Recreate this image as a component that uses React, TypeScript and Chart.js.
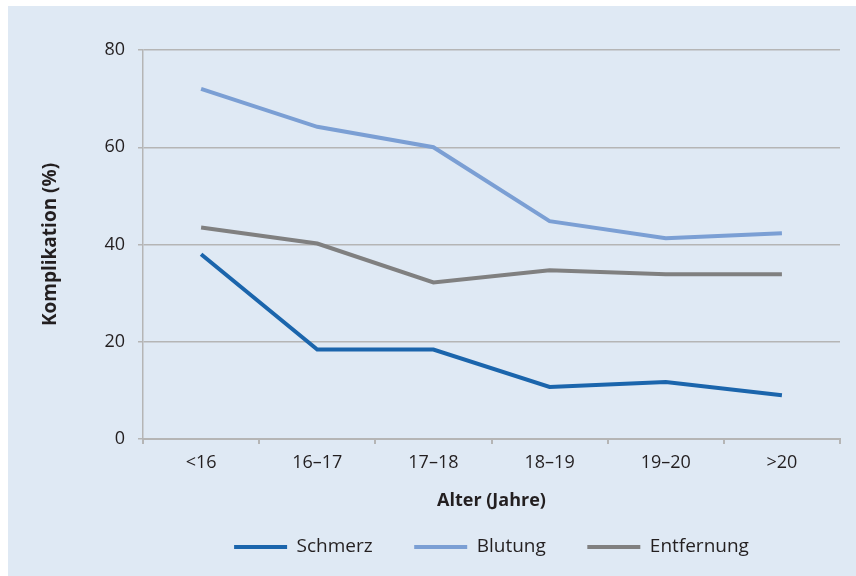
import { useEffect, useRef } from "react";
import { Chart, registerables } from "chart.js";

Chart.register(...registerables);

// Altersgruppen (x-Achse)
const ageGroups = ["<16", "16–17", "17–18", "18–19", "19–20", ">20"];

// Komplikationsraten in Prozent je Altersgruppe
const schmerz = [38, 18.4, 18.4, 10.7, 11.7, 9];
const blutung = [72, 64.2, 60, 44.8, 41.3, 42.3];
const entfernung = [43.5, 40.2, 32.2, 34.7, 33.9, 33.9];

// Beschriftete Werte der y-Achse
const yTicks = [0, 20, 40, 60, 80];

const seriesNames = ["Schmerz", "Blutung", "Entfernung"];
const seriesColors = ["#1b65ac", "#7b9fd4", "#808080"];

const GRID = "#b5b5b5";
const TEXT = "#231f20";
const FONT = "'Open Sans', 'Noto Sans', sans-serif";

export default function App() {
  const canvasRef = useRef<HTMLCanvasElement | null>(null);

  useEffect(() => {
    const canvas = canvasRef.current;
    if (!canvas) return;

    Chart.defaults.font.family = FONT;
    Chart.defaults.color = TEXT;

    const values = [schmerz, blutung, entfernung];

    const chart = new Chart(canvas, {
      type: "line",
      data: {
        labels: ageGroups,
        datasets: values.map((data, i) => ({
          label: seriesNames[i],
          data,
          borderColor: seriesColors[i],
          backgroundColor: seriesColors[i],
          borderWidth: 4,
          pointRadius: 0,
          pointHoverRadius: 0,
          tension: 0,
          fill: false,
        })),
      },
      options: {
        responsive: false,
        animation: false,
        layout: { padding: { top: 44, left: 20, right: 16, bottom: 9.5 } },
        plugins: {
          tooltip: { enabled: false },
          legend: {
            position: "bottom",
            fullSize: false,
            labels: {
              boxWidth: 53,
              boxHeight: 4,
              padding: 41.5,
              color: TEXT,
              font: { size: 19, family: FONT },
              generateLabels: (c: Chart) =>
                Chart.defaults.plugins.legend.labels
                  .generateLabels(c)
                  .map((item: any) => ({
                    ...item,
                    lineWidth: 0,
                    fillStyle: item.strokeStyle,
                  })),
            },
          },
        },
        scales: {
          x: {
            offset: true,
            grid: {
              display: true,
              offset: true,
              drawOnChartArea: false,
              drawTicks: true,
              tickLength: 5,
              color: GRID,
              lineWidth: 2,
            },
            border: { display: true, color: GRID, width: 2 },
            ticks: {
              padding: 8,
              color: TEXT,
              font: { size: 18, family: FONT },
              maxRotation: 0,
            },
            title: {
              display: true,
              text: "Alter (Jahre)",
              color: TEXT,
              font: { size: 18, weight: "bold", family: FONT },
              padding: { top: 0, bottom: -15.8 },
            },
            afterFit: (scale: any) => {
              scale.height = 57;
            },
          },
          y: {
            min: 0,
            max: 80,
            afterBuildTicks: (scale: any) => {
              scale.ticks = yTicks.map((v) => ({ value: v }));
            },
            grid: {
              color: GRID,
              lineWidth: 1.5,
              drawTicks: true,
              tickLength: 5,
            },
            border: { display: true, color: GRID, width: 1.5 },
            ticks: {
              padding: 13,
              color: TEXT,
              font: { size: 18, family: FONT },
            },
            title: {
              display: true,
              text: "Komplikation (%)",
              color: TEXT,
              font: { size: 19, weight: "bold", family: FONT },
              padding: { top: 11, bottom: 0 },
            },
            afterFit: (scale: any) => {
              scale.width = 115;
            },
          },
        },
      },
    });

    return () => chart.destroy();
  }, []);

  return (
    <div
      style={{
        position: "absolute",
        left: 8,
        top: 6,
        width: 848,
        height: 570,
        background: "#dfe9f4",
      }}
    >
      <canvas ref={canvasRef} width={848} height={570} style={{ display: "block" }} />
    </div>
  );
}
